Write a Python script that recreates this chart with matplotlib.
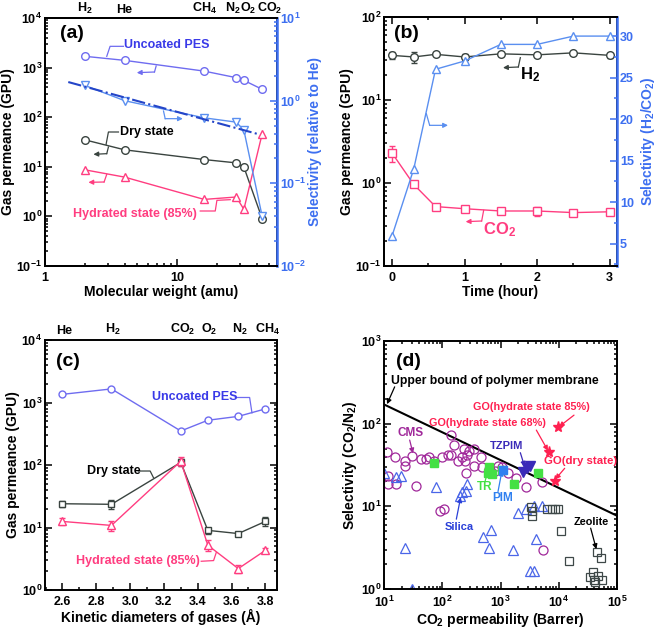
import numpy as np
import matplotlib
matplotlib.use('Agg')
import matplotlib.pyplot as plt
from matplotlib.ticker import LogLocator, MultipleLocator, NullFormatter, FuncFormatter

plt.rcParams['font.family'] = ['Liberation Sans', 'DejaVu Sans']
plt.rcParams['font.weight'] = 'bold'
plt.rcParams['axes.labelweight'] = 'bold'
plt.rcParams['mathtext.fontset'] = 'custom'
plt.rcParams['mathtext.rm'] = 'Liberation Sans:bold'
plt.rcParams['mathtext.bf'] = 'Liberation Sans:bold'
plt.rcParams['mathtext.it'] = 'Liberation Sans:bold:italic'
plt.rcParams['axes.linewidth'] = 1.4

# ---------------- DATOS ----------------
# (a) permeancia vs peso molecular
mw = [2, 4, 16, 28, 32, 44]
gases_a = ['H$_2$', 'He', 'CH$_4$', 'N$_2$', 'O$_2$', 'CO$_2$']
pes_a = [1690, 1400, 850, 627, 553, 365]
dry_a = [35, 22, 14, 12, 9.9, 0.9]
hyd_a = [8.7, 6.2, 2.2, 2.46, 1.39, 46]
sel_a = [1.53, 1.0, 0.62, 0.55, 0.44, 0.04]
fit_x = [1.5, 42]
fit_y = [1.68, 0.39]

# (b) estabilidad en el tiempo
t_b = [0, 0.3, 0.6, 1, 1.5, 2, 2.5, 3]
h2_b = [34.5, 33, 35.5, 33, 36, 35, 37, 34.5]
h2_err = [3, 5, 2, 3, 2, 2, 2, 2]
co2_b = [2.3, 0.96, 0.52, 0.49, 0.46, 0.46, 0.44, 0.45]
co2_err = [0.5, 0.05, 0.04, 0.04, 0.03, 0.06, 0.02, 0.04]
sel_b = [5.9, 14.0, 26.0, 27.0, 29.0, 29.0, 30.0, 30.0]

# (c) permeancia vs diametro cinetico
kd = [2.6, 2.89, 3.3, 3.46, 3.64, 3.8]
gases_c = ['He', 'H$_2$', 'CO$_2$', 'O$_2$', 'N$_2$', 'CH$_4$']
pes_c = [1350, 1650, 350, 520, 600, 790]
dry_c = [24, 23.5, 110, 9.0, 8.0, 12.5]
dry_err = [3, 4, 15, 1, 0.6, 2]
hyd_c = [12.5, 10.8, 115, 5.2, 2.2, 4.3]
hyd_err = [1.5, 2, 20, 1, 0.3, 0.4]

# (d) comparacion CO2/N2
ub_x = [10.5, 1e5]
ub_y = [168, 7.7]
cms_x = [11.3, 11.9, 11.9, 15.5, 16.3, 23, 23, 30.6, 35, 43.7, 53, 58.5, 72, 90, 106, 98,
         126, 141, 141, 159, 186, 218, 236, 242, 256, 270, 288, 346, 346, 469, 481, 635,
         815, 906, 1048, 1346, 1820, 2775, 5220, 5370]
cms_y = [45, 23, 18.7, 40, 18.7, 35, 31, 41, 17.8, 37, 37, 40, 35, 8.9, 9.3, 40,
         42, 73, 41.5, 55, 35, 40, 50, 35, 25, 41.5, 47, 49, 31, 39, 29.5, 28,
         27, 31, 29.5, 25.6, 22.3, 17, 19.6, 3.0]
sil_x = [9.9, 16.3, 19.3, 23, 30.6, 77, 204, 222, 259, 265, 507, 635, 697, 1640,
         2020, 2710, 3200, 3760, 3800, 4130, 5220]
sil_y = [25, 22.9, 23, 3.1, 1.0, 17.3, 13.4, 15, 15.3, 18.4, 4.2, 3.1, 5.2, 3.0,
         8.3, 9.2, 1.63, 1.63, 10.1, 4.0, 10.1]
zeo_x = [3340, 3510, 3470, 6380, 7560, 8600, 9770, 10860, 15100, 44600, 52800,
         38400, 34700, 39500, 47600, 56000, 42500]
zeo_y = [9.8, 8.8, 7.7, 9.2, 9.2, 9.2, 9.2, 5.0, 2.2, 2.8, 2.37,
         1.59, 1.4, 1.29, 1.42, 1.29, 1.2]
tr_x = [72, 635, 620, 706, 1070, 1710, 4360]
tr_y = [33, 30, 25, 24.6, 27.5, 18.5, 25.5]
pim_x = [1120]
pim_y = [27.5]
tz_x = [2470, 2820, 3200]
tz_y = [26, 29, 30.5]
go_x = [9840, 6710, 8510]
go_y = [90, 46, 20.5]

# colores
c_pes = '#6f6cf0'
c_pes_t = '#3a3ae8'
c_dry = '#3a4440'
c_hyd = '#ff3d80'
c_sel = '#5a8ff0'
c_ax2 = '#3d6ff0'


def leader(ax, pts, color, arrow_to=None):
    # linea quebrada en fraccion de ejes, con flecha opcional al final
    xs = [p[0] for p in pts]
    ys = [p[1] for p in pts]
    ax.plot(xs, ys, color=color, lw=0.9, transform=ax.transAxes, clip_on=False)
    if arrow_to is not None:
        ax.annotate('', xy=arrow_to, xytext=pts[-1], xycoords='axes fraction',
                    arrowprops=dict(arrowstyle='-|>', color=color, lw=0.9,
                                    mutation_scale=7, shrinkA=0, shrinkB=0))


def fa(zx, zy, x0, x1, y0, y1):
    # pixel de zoom -> fraccion de ejes
    return ((zx - x0) / (x1 - x0), (y0 - zy) / (y0 - y1))


def style(ax):
    ax.tick_params(which='both', direction='in', labelsize=9, width=1.1, pad=2)
    ax.tick_params(which='major', length=5)
    ax.tick_params(which='minor', length=2.5)
    ax.tick_params(axis='x', pad=4)


fig = plt.figure(figsize=(6.61, 6.31), dpi=100)

# ---------------- (a) ----------------
ax = fig.add_axes([45 / 661, 1 - 266 / 631, 232 / 661, 248 / 631])
ax.set_xscale('log')
ax.set_yscale('log')
ax.plot(mw, pes_a, '-o', color=c_pes, mfc='white', ms=5.5, lw=1)
ax.plot(mw, dry_a, '-o', color=c_dry, mfc='white', ms=5.5, lw=1)
ax.plot(mw, hyd_a, '-^', color=c_hyd, mfc='white', ms=6, lw=1)
ax.set_xlim(1, 57)
ax.set_ylim(0.1, 1e4)
ax.set_xlabel('Molecular weight (amu)', fontsize=10, labelpad=1)
ax.set_ylabel('Gas permeance (GPU)', fontsize=10, labelpad=1)
ax.yaxis.set_major_locator(LogLocator(base=10, numticks=10))
ax.yaxis.set_minor_locator(LogLocator(base=10, subs=np.arange(2, 10), numticks=10))
ax.yaxis.set_minor_formatter(NullFormatter())
ax.xaxis.set_major_formatter(FuncFormatter(lambda v, p: '%g' % v))
ax.xaxis.set_minor_formatter(NullFormatter())
style(ax)
ax.tick_params(top=False, which='both')
ax2 = ax.twinx()
ax2.set_yscale('log')
ax2.plot(mw, sel_a, '-v', color=c_sel, mfc='white', ms=6, lw=1)
ax2.plot(fit_x, fit_y, '-.', color='#2445c8', lw=1.5)
ax2.set_ylim(0.01, 10)
ax2.set_ylabel('Selectivity (relative to He)', color=c_ax2, fontsize=10, labelpad=2)
ax2.spines['right'].set_color(c_ax2)
ax2.spines['right'].set_linewidth(1.8)
style(ax2)
ax2.tick_params(axis='y', which='both', colors=c_ax2)
ax2.yaxis.set_minor_formatter(NullFormatter())
tlab_a = [2, 4, 16, 26.5, 34.5, 50]
for xg, g in zip(tlab_a, gases_a):
    ax.text(xg, 1.01, g, transform=ax.get_xaxis_transform(), ha='center', va='bottom', fontsize=9)
A = lambda zx, zy: fa(zx, zy, 135, 830, 797, 53)
ax.text(*A(215, 100), '(a)', transform=ax.transAxes, fontsize=14, ha='center', va='center')
ax.text(*A(500, 135), 'Uncoated PES', transform=ax.transAxes, fontsize=9, color=c_pes_t, ha='center', va='center')
leader(ax, [A(370, 138), A(330, 138), A(320, 168)], c_pes)
leader(ax, [A(468, 197), A(463, 215)], c_pes, arrow_to=A(410, 217))
leader(ax, [A(490, 332), A(495, 355)], c_sel, arrow_to=A(548, 355))
ax.text(*A(440, 395), 'Dry state', transform=ax.transAxes, fontsize=9, color='black', ha='center', va='center')
leader(ax, [A(355, 395), A(325, 395), A(318, 432)], c_dry)
leader(ax, [A(325, 440), A(320, 460)], c_dry, arrow_to=A(280, 462))
ax.text(*A(405, 640), 'Hydrated state (85%)', transform=ax.transAxes, fontsize=9, color=c_hyd, ha='center', va='center')
leader(ax, [A(600, 632), A(645, 632), A(650, 600), A(690, 598)], c_hyd)
leader(ax, [A(320, 522), A(312, 545)], c_hyd, arrow_to=A(265, 546))

# ---------------- (b) ----------------
bx = fig.add_axes([384 / 661, 1 - 266 / 631, 233 / 661, 249 / 631])
bx.set_yscale('log')
bx.errorbar(t_b, h2_b, yerr=h2_err, fmt='-o', color=c_dry, mfc='white', ms=5.5, lw=1, capsize=2)
bx.errorbar(t_b, co2_b, yerr=co2_err, fmt='-s', color=c_hyd, mfc='white', ms=5.5, lw=1, capsize=2)
bx.set_xlim(-0.11, 3.1)
bx.set_ylim(0.1, 100)
bx.xaxis.set_major_locator(MultipleLocator(1))
bx.xaxis.set_minor_locator(MultipleLocator(0.5))
bx.yaxis.set_minor_formatter(NullFormatter())
bx.set_xlabel('Time (hour)', fontsize=10, labelpad=1)
bx.set_ylabel('Gas permeance (GPU)', fontsize=10, labelpad=1)
style(bx)
bx.tick_params(top=True, which='both')
bx2 = bx.twinx()
bx2.plot(t_b, sel_b, '-^', color=c_sel, mfc='white', ms=6, lw=1)
bx2.set_ylim(2.3, 32.3)
bx2.yaxis.set_major_locator(MultipleLocator(5))
bx2.yaxis.set_minor_locator(MultipleLocator(2.5))
bx2.set_ylabel('Selectivity (H$_2$/CO$_2$)', color=c_ax2, fontsize=10, labelpad=4)
bx2.spines['right'].set_color(c_ax2)
bx2.spines['right'].set_linewidth(1.8)
style(bx2)
bx2.tick_params(axis='y', which='both', colors=c_ax2)
B = lambda zx, zy: fa(zx, zy, 163, 862, 797, 50)
bx.text(*B(230, 100), '(b)', transform=bx.transAxes, fontsize=14, ha='center', va='center')
bx.text(*B(600, 222), 'H$_2$', transform=bx.transAxes, fontsize=12, ha='center', va='center')
leader(bx, [B(572, 172), B(566, 200)], c_dry, arrow_to=B(520, 202))
leader(bx, [B(290, 340), B(300, 375)], c_sel, arrow_to=B(355, 375))
bx.text(*B(510, 688), 'CO$_2$', transform=bx.transAxes, fontsize=12, color=c_hyd, ha='center', va='center')
leader(bx, [B(462, 630), B(456, 662)], c_hyd, arrow_to=B(408, 664))

# ---------------- (c) ----------------
cx = fig.add_axes([45 / 661, 1 - 590 / 631, 232 / 661, 250 / 631])
cx.set_yscale('log')
cx.plot(kd, pes_c, '-o', color=c_pes, mfc='white', ms=5, lw=1)
cx.errorbar(kd, dry_c, yerr=dry_err, fmt='-s', color=c_dry, mfc='white', ms=5, lw=1, capsize=2)
cx.errorbar(kd, hyd_c, yerr=hyd_err, fmt='-^', color=c_hyd, mfc='white', ms=5.5, lw=1, capsize=2)
cx.set_xlim(2.497, 3.869)
cx.set_ylim(1, 1e4)
cx.xaxis.set_major_locator(MultipleLocator(0.2))
cx.xaxis.set_minor_locator(MultipleLocator(0.1))
cx.yaxis.set_minor_formatter(NullFormatter())
cx.set_xlabel('Kinetic diameters of gases (Å)', fontsize=10, labelpad=1)
cx.set_ylabel('Gas permeance (GPU)', fontsize=10, labelpad=1)
style(cx)
cx.tick_params(right=True, which='both')
for xg, g in zip(kd, gases_c):
    cx.text(xg + 0.01, 1.01, g, transform=cx.get_xaxis_transform(), ha='center', va='bottom', fontsize=9)
C = lambda zx, zy: fa(zx, zy, 135, 830, 808, 60)
cx.text(*C(205, 125), '(c)', transform=cx.transAxes, fontsize=14, ha='center', va='center')
cx.text(*C(585, 232), 'Uncoated PES', transform=cx.transAxes, fontsize=9, color=c_pes_t, ha='center', va='center')
leader(cx, [C(705, 232), C(748, 232), C(755, 278)], c_pes)
cx.text(*C(340, 452), 'Dry state', transform=cx.transAxes, fontsize=9, ha='center', va='center')
leader(cx, [C(415, 452), C(450, 452), C(460, 472)], c_dry)
cx.text(*C(412, 722), 'Hydrated state (85%)', transform=cx.transAxes, fontsize=9, color=c_hyd, ha='center', va='center')
leader(cx, [C(603, 722), C(640, 720), C(648, 696)], c_hyd)

# ---------------- (d) ----------------
dx = fig.add_axes([384 / 661, 1 - 589 / 631, 233 / 661, 248 / 631])
dx.set_xscale('log')
dx.set_yscale('log')
dx.plot(ub_x, ub_y, '-', color='black', lw=1.5)
dx.plot(cms_x, cms_y, 'o', color='#a0289a', mfc='none', ms=6.5, mew=0.9)
dx.plot(sil_x, sil_y, '^', color='#4a66e8', mfc='none', ms=7, mew=0.9)
dx.plot(zeo_x, zeo_y, 's', color='#3e4848', mfc='none', ms=5.5, mew=0.9)
dx.plot(tr_x, tr_y, 's', color='#44e044', ms=6)
dx.plot(pim_x, pim_y, 's', color='#3080f0', ms=5.5)
dx.plot(tz_x, tz_y, 'v', color='#3a2ab8', ms=7)
dx.plot(go_x, go_y, '*', color='#ff2050', ms=8)
dx.set_xlim(10, 1e5)
dx.set_ylim(1, 1e3)
dx.xaxis.set_minor_formatter(NullFormatter())
dx.yaxis.set_minor_formatter(NullFormatter())
dx.set_xlabel('CO$_2$ permeability (Barrer)', fontsize=10, labelpad=1)
dx.set_ylabel('Selectivity (CO$_2$/N$_2$)', fontsize=10, labelpad=1)
style(dx)
dx.tick_params(right=True, top=True, which='both')
D = lambda zx, zy: fa(zx, zy, 163, 862, 808, 62)
dx.text(*D(235, 125), '(d)', transform=dx.transAxes, fontsize=14, ha='center', va='center')
dx.text(*D(183, 183), 'Upper bound of polymer membrane', transform=dx.transAxes, fontsize=8.8, ha='left', va='center')
leader(dx, [D(195, 200)], 'black', arrow_to=D(172, 252))
dx.text(*D(243, 340), 'CMS', transform=dx.transAxes, fontsize=8.5, color='#a0289a', ha='center', va='center')
leader(dx, [D(240, 360)], '#a0289a', arrow_to=D(250, 400))
dx.text(*D(606, 262), 'GO(hydrate state 85%)', transform=dx.transAxes, fontsize=7.8, color='#ff2050', ha='center', va='center')
leader(dx, [D(733, 285)], '#ff2050', arrow_to=D(688, 320))
dx.text(*D(473, 308), 'GO(hydrate state 68%)', transform=dx.transAxes, fontsize=7.8, color='#ff2050', ha='center', va='center')
leader(dx, [D(620, 330)], '#ff2050', arrow_to=D(655, 392))
dx.text(*D(752, 424), 'GO(dry state)', transform=dx.transAxes, fontsize=8.2, color='#ff2050', ha='center', va='center')
leader(dx, [D(705, 445)], '#ff2050', arrow_to=D(677, 478))
dx.text(*D(532, 378), 'TZPIM', transform=dx.transAxes, fontsize=8, color='#3a2ab8', ha='center', va='center')
leader(dx, [D(572, 398)], '#3a2ab8', arrow_to=D(585, 440))
dx.text(*D(466, 500), 'TR', transform=dx.transAxes, fontsize=8.5, color='#44e044', ha='center', va='center')
leader(dx, [D(466, 485)], '#44e044', arrow_to=D(478, 440))
dx.text(*D(519, 533), 'PIM', transform=dx.transAxes, fontsize=8.5, color='#3080f0', ha='center', va='center')
leader(dx, [D(505, 515)], '#3080f0', arrow_to=D(517, 452))
dx.text(*D(388, 620), 'Silica', transform=dx.transAxes, fontsize=8, color='#2a40d8', ha='center', va='center')
leader(dx, [D(380, 598)], '#2a40d8', arrow_to=D(393, 532))
dx.text(*D(785, 605), 'Zeolite', transform=dx.transAxes, fontsize=7.8, ha='center', va='center')
leader(dx, [D(783, 625)], 'black', arrow_to=D(800, 688))

fig.savefig('out.png', dpi=100)
